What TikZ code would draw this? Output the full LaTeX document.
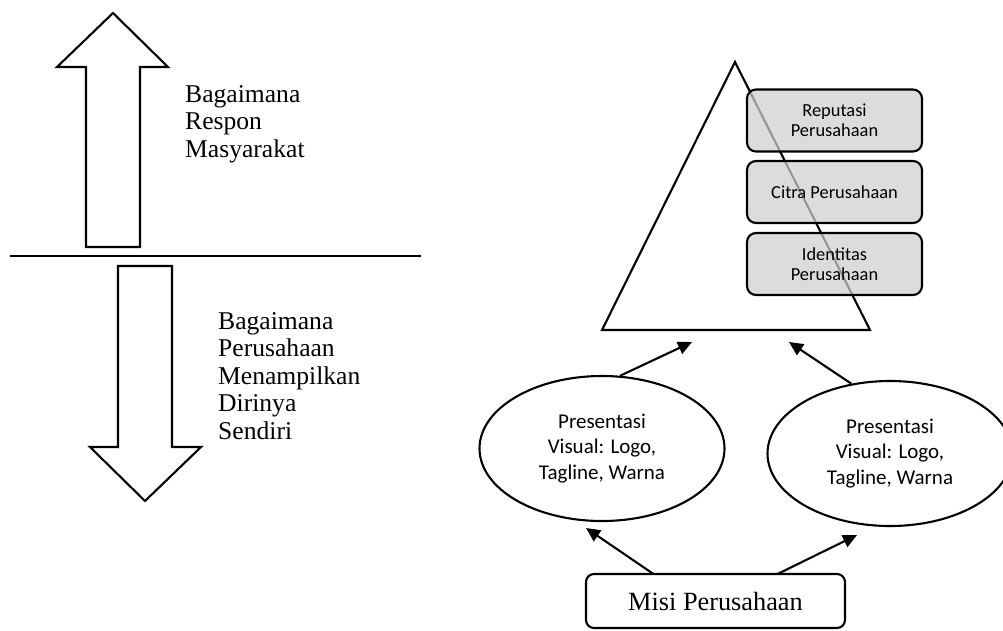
\documentclass[tikz,border=0pt]{standalone}
\usepackage{fontspec}
\setmainfont{Liberation Serif}
\newfontfamily\calfont{Carlito}
\usetikzlibrary{arrows.meta,shapes.geometric}
\tikzset{
  outline/.style={draw=black, line width=2.1pt, line join=miter},
  sepline/.style={draw=black, line width=2.1pt},
  serifnote/.style={font=\fontsize{25.6}{27.5}\selectfont, align=left, inner sep=0pt, anchor=base west},
  greybox/.style={draw=black, line width=2.1pt, rounded corners=9pt, fill=black!19, fill opacity=0.72, text opacity=1,
    minimum width=175pt, minimum height=62pt, inner sep=0pt, align=center, font=\calfont\fontsize{18.4}{19.7}\selectfont},
  ellip/.style={ellipse, draw=black, line width=2.1pt, minimum width=245pt, minimum height=145pt, inner sep=0pt,
    align=center, font=\calfont\fontsize{21}{25.5}\selectfont},
  misibox/.style={draw=black, line width=2.1pt, rounded corners=8pt, minimum width=259pt, minimum height=54pt,
    inner sep=0pt, font=\fontsize{26.3}{28}\selectfont},
  arr/.style={draw=black, line width=2.1pt, -{Triangle[length=14pt,width=13pt]}}
}
\begin{document}
\begin{tikzpicture}[x=1pt,y=-1pt]
\useasboundingbox (0,0) rectangle (1003,630);
\clip (0,0) rectangle (1003,630);
% left part
\draw[outline] (113,13) -- (168,67) -- (140,67) -- (140,247) -- (86,247) -- (86,67) -- (57,67) -- cycle;
\draw[sepline] (10,256) -- (421,256);
\draw[outline] (118,266) -- (172,266) -- (172,447) -- (201,447) -- (145,501) -- (90,447) -- (118,447) -- cycle;
\node[serifnote] (up) at (185,157) {Bagaimana\\Respon\\Masyarakat};
\node[serifnote] (down) at (218,439) {Bagaimana\\Perusahaan\\Menampilkan\\Dirinya\\Sendiri};
% pyramid
\draw[outline] (735,62) -- (870,330) -- (602,330) -- cycle;
\node[greybox] (rep) at (834.5,120.5) {Reputasi\\Perusahaan};
\node[greybox] (cit) at (834.5,192) {Citra Perusahaan};
\node[greybox] (ide) at (834.5,264) {Identitas\\Perusahaan};
% ellipses
\node[ellip] (el) at (602,448.5) {Presentasi\\Visual: Logo,\\Tagline, Warna};
\node[ellip] (er) at (890,453.5) {Presentasi\\Visual: Logo,\\Tagline, Warna};
\node[misibox] (misi) at (715.5,601) {Misi Perusahaan};
% arrow targets
\coordinate (tl) at (692,342);
\coordinate (tr) at (789,342);
\coordinate (ml) at (586,528);
\coordinate (mr) at (857,535);
\coordinate (sl) at (653.5,574);
\coordinate (sr) at (777.5,574);
\draw[arr] (el.76.7) -- (tl);
\draw[arr] (er.119.7) -- (tr);
\draw[arr] (sl) -- (ml);
\draw[arr] (sr) -- (mr);
\end{tikzpicture}
\end{document}
